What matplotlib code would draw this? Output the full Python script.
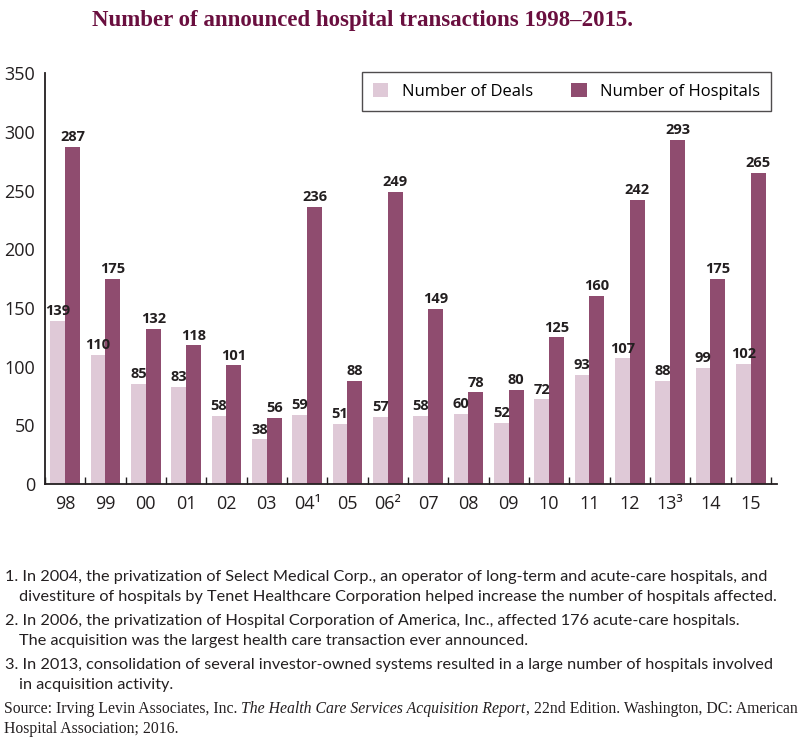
import matplotlib
matplotlib.use("Agg")
import matplotlib.pyplot as plt
import numpy as np

years = ["98", "99", "00", "01", "02", "03", "04¹", "05", "06²", "07", "08", "09",
         "10", "11", "12", "13³", "14", "15"]
deals = [139, 110, 85, 83, 58, 38, 59, 51, 57, 58, 60, 52, 72, 93, 107, 88, 99, 102]
hospitals = [287, 175, 132, 118, 101, 56, 236, 88, 249, 149, 78, 80, 125, 160, 242, 293, 175, 265]
yticks = [0, 50, 100, 150, 200, 250, 300, 350]

title = "Number of announced hospital transactions 1998\u20132015."
notes = [
    "1. In 2004, the privatization of Select Medical Corp., an operator of long-term and acute-care hospitals, and",
    "divestiture of hospitals by Tenet Healthcare Corporation helped increase the number of hospitals affected.",
    "2. In 2006, the privatization of Hospital Corporation of America, Inc., affected 176 acute-care hospitals.",
    "The acquisition was the largest health care transaction ever announced.",
    "3. In 2013, consolidation of several investor-owned systems resulted in a large number of hospitals involved",
    "in acquisition activity.",
]

LIGHT = "#dfc9d7"
DARK = "#8f4c6f"
SANS = "Open Sans"
NOTE = "Lato"

fig = plt.figure(figsize=(8, 7.4), dpi=100)
ax = fig.add_axes([0.05625, 0.346, 0.915, 0.555])

x = np.arange(len(years))
w = 0.37
b1 = ax.bar(x - w / 2, deals, width=w, color=LIGHT, label="Number of Deals", zorder=2)
b2 = ax.bar(x + w / 2, hospitals, width=w, color=DARK, label="Number of Hospitals", zorder=2)

for bars, vals in ((b1, deals), (b2, hospitals)):
    for r, v in zip(bars, vals):
        ax.annotate(str(v), (r.get_x() + r.get_width() / 2, v), xytext=(0, 2),
                    textcoords="offset points", ha="center", va="bottom",
                    fontsize=10.5, fontweight="bold", color="#231f20", family=SANS)

ax.set_xlim(-0.5, len(years) - 0.35)
ax.set_ylim(0, 350)
ax.set_yticks(yticks)
ax.set_yticklabels([str(t) for t in yticks], fontsize=13, family=SANS, color="#231f20")
ax.tick_params(axis="y", length=0, pad=7)
ax.set_xticks(x)
ax.set_xticklabels(years, fontsize=13, family=SANS, color="#231f20")
ax.tick_params(axis="x", which="major", length=0, pad=8)
ax.set_xticks(np.arange(len(years) + 1) - 0.5, minor=True)
ax.tick_params(axis="x", which="minor", direction="in", length=5, width=1, color="#231f20")
for s in ("top", "right"):
    ax.spines[s].set_visible(False)
for s in ("left", "bottom"):
    ax.spines[s].set_linewidth(1.3)
    ax.spines[s].set_color("#231f20")

leg = ax.legend(loc="upper right", bbox_to_anchor=(0.992, 1.003), ncol=2, frameon=True,
                fancybox=False, edgecolor="#231f20",
                prop={"family": SANS, "size": 12}, handlelength=0.95, handleheight=0.95,
                columnspacing=2.3, borderpad=0.65, handletextpad=0.8, borderaxespad=0)
leg.get_frame().set_linewidth(1.0)

fig.text(0.115, 0.972, title, fontsize=16.5, fontweight="bold", color="#6a0f3f",
         family="Liberation Serif", va="center", ha="left")

fig.canvas.draw()
rend = fig.canvas.get_renderer()
W = fig.bbox.width


def fit_size(txt, family, target_px, style="normal", base=12):
    t = fig.text(0, 0, txt, fontsize=base, family=family, style=style)
    wpx = t.get_window_extent(renderer=rend).width
    t.remove()
    return base * target_px / wpx


note_fs = fit_size(notes[0], NOTE, 760)
ys = [577, 597, 621, 641, 665, 685]
xs = [5, 19, 5, 19, 5, 19]
for t, yy, xx in zip(notes, ys, xs):
    fig.text(xx / W, 1 - yy / 740, t, fontsize=note_fs, family=NOTE, color="#231f20", va="center")

# Source line with italic title
parts = [("Source: Irving Levin Associates, Inc. ", "normal"),
         ("The Health Care Services Acquisition Report", "italic"),
         (", 22nd Edition. Washington, DC: American", "normal")]
tot = 0
for txt, st in parts:
    t = fig.text(0, 0, txt, fontsize=11, family="Liberation Serif", style=st)
    tot += t.get_window_extent(renderer=rend).width
    t.remove()
src_fs = 11 * 792 / tot
xpos = 4 / W
yy = 1 - 709 / 740
for txt, st in parts:
    t = fig.text(xpos, yy, txt, fontsize=src_fs, family="Liberation Serif", style=st,
                 color="#231f20", va="center")
    bb = t.get_window_extent(renderer=rend)
    xpos += bb.width / W
fig.text(4 / W, 1 - 729 / 740, "Hospital Association; 2016.", fontsize=src_fs,
         family="Liberation Serif", color="#231f20", va="center")

fig.savefig("out.png", dpi=100)
